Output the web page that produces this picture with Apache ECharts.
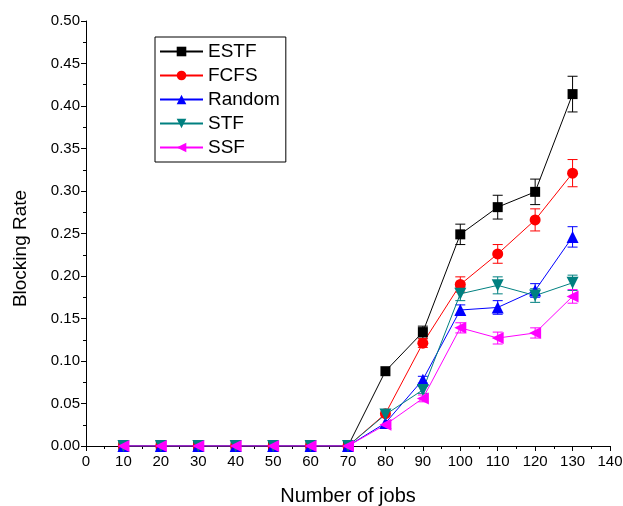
<!DOCTYPE html>
<html><head><meta charset="utf-8">
<script src="https://cdn.jsdelivr.net/npm/echarts@6/dist/echarts.min.js"></script>
<style>html,body{margin:0;padding:0;background:#fff}#c{width:623px;height:506px}</style>
</head><body><div id="c"></div>
<script>
const jobs = [10,20,30,40,50,60,70,80,90,100,110,120,130];
const seriesNames = ['ESTF','FCFS','Random','STF','SSF'];
const estf   = [0,0,0,0,0,0,0,0.088,0.134,0.249,0.281,0.299,0.414];
const fcfs   = [0,0,0,0,0,0,0,0.038,0.121,0.190,0.226,0.266,0.321];
const rand   = [0,0,0,0,0,0,0,0.027,0.078,0.160,0.163,0.183,0.246];
const stf    = [0,0,0,0,0,0,0,0.037,0.066,0.179,0.189,0.177,0.192];
const ssf    = [0,0,0,0,0,0,0,0.025,0.056,0.139,0.127,0.133,0.176];
const estfErr= [0,0,0,0,0,0,0,0,0.007,0.012,0.014,0.015,0.021];
const fcfsErr= [0,0,0,0,0,0,0,0,0.005,0.009,0.011,0.013,0.016];
const randErr= [0,0,0,0,0,0,0,0,0.004,0.006,0.008,0.008,0.012];
const stfErr = [0,0,0,0,0,0,0,0,0.004,0.008,0.010,0.008,0.009];
const ssfErr = [0,0,0,0,0,0,0,0,0.004,0.006,0.007,0.006,0.008];

const colors = ['#000000','#ff0000','#0000ff','#008080','#ff00ff'];
const values = [estf,fcfs,rand,stf,ssf];
const errs = [estfErr,fcfsErr,randErr,stfErr,ssfErr];
const symbols = ['rect','circle','triangle','triangle','triangle'];
const rotates = [0,0,0,180,90];
const sizes = [10,11,12,12,12];

const chart = echarts.init(document.getElementById('c'));
const series = [];
values.forEach((v,i)=>{
  const errData = [];
  jobs.forEach((x,k)=>{ if (errs[i][k]>0) errData.push([x, v[k]-errs[i][k], v[k]+errs[i][k]]); });
  series.push({
    type:'custom', name: seriesNames[i]+'_err', silent:true, z:1,
    data: errData,
    renderItem: function(params, api){
      const x = api.value(0);
      const lo = api.coord([x, api.value(1)]);
      const hi = api.coord([x, api.value(2)]);
      const w = 5;
      const st = {stroke: colors[i], lineWidth: 1};
      return {type:'group', children:[
        {type:'line', shape:{x1:lo[0],y1:lo[1],x2:hi[0],y2:hi[1]}, style:st},
        {type:'line', shape:{x1:lo[0]-w,y1:lo[1],x2:lo[0]+w,y2:lo[1]}, style:st},
        {type:'line', shape:{x1:hi[0]-w,y1:hi[1],x2:hi[0]+w,y2:hi[1]}, style:st}
      ]};
    }
  });
});
values.forEach((v,i)=>{
  series.push({
    type:'line', name: seriesNames[i], z:3,
    data: jobs.map((x,k)=>[x, v[k]]),
    symbol: symbols[i], symbolSize: sizes[i], symbolRotate: rotates[i],
    itemStyle:{color: colors[i]},
    lineStyle:{color: colors[i], width:1},
    animation:false
  });
});

chart.setOption({
  animation:false,
  backgroundColor:'#fff',
  textStyle:{fontFamily:'Liberation Sans, Arial, sans-serif'},
  grid:{left:86, right:13, top:21, bottom:60, outerBoundsMode:'none', containLabel:false},
  legend:{
    data: seriesNames, orient:'vertical', left:155, top:37,
    borderColor:'#000', borderWidth:1, borderRadius:0,
    padding:[5,6,5,4], itemGap:5, itemWidth:43, itemHeight:12,
    textStyle:{fontSize:19, color:'#000', fontFamily:'Liberation Sans, Arial, sans-serif'}
  },
  xAxis:{
    type:'value', min:0, max:140, interval:10,
    name:'Number of jobs', nameLocation:'middle', nameGap:40,
    nameTextStyle:{fontSize:20, color:'#000'},
    axisLine:{lineStyle:{color:'#000', width:1}},
    axisTick:{length:5, lineStyle:{color:'#000'}},
    minorTick:{show:true, splitNumber:2, length:3, lineStyle:{color:'#000'}},
    axisLabel:{fontSize:15, color:'#000', margin:8},
    splitLine:{show:false}
  },
  yAxis:{
    type:'value', min:0, max:0.5, interval:0.05,
    name:'Blocking Rate', nameLocation:'middle', nameGap:56,
    nameTextStyle:{fontSize:19, color:'#000', padding:[0,30,0,0]},
    axisLine:{show:true, lineStyle:{color:'#000', width:1}},
    axisTick:{show:true, length:5, lineStyle:{color:'#000'}},
    minorTick:{show:true, splitNumber:2, length:3, lineStyle:{color:'#000'}},
    axisLabel:{fontSize:15, color:'#000', margin:6, formatter: v=>v.toFixed(2)},
    splitLine:{show:false}
  },
  series: series
});
</script></body></html>
